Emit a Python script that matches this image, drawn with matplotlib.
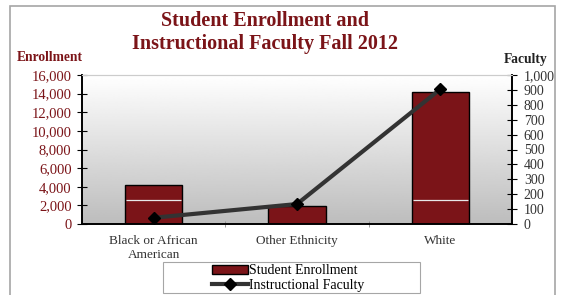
import matplotlib.pyplot as plt
import numpy as np
from matplotlib.patches import Rectangle

plt.rcParams['font.family'] = ['Liberation Serif', 'DejaVu Serif']

categories = ['Black or African\nAmerican', 'Other Ethnicity', 'White']
enrollment = [4150, 1950, 14200]
faculty = [42, 134, 905]

dark_red = '#7b1418'

fig = plt.figure(figsize=(5.64, 2.95), dpi=100)
# outer frame of the chart
fig.patches.append(Rectangle((10 / 564, -0.1), 545 / 564, 1.08, transform=fig.transFigure,
                             fill=False, edgecolor='#a6a6a6', lw=1.2))
# legend frame (wider than its contents, like the original)
fig.patches.append(Rectangle((163 / 564, 1 - 293 / 295), 257 / 564, 31 / 295,
                             transform=fig.transFigure, fill=True, facecolor='white',
                             edgecolor='#a6a6a6', lw=0.8))

ax = fig.add_axes([82 / 564, 1 - 224 / 295, 430 / 564, 149 / 295])
ax2 = ax.twinx()

# gradient background
grad = np.linspace(1, 0.74, 256).reshape(-1, 1)
ax.imshow(grad, cmap='gray', vmin=0, vmax=1, aspect='auto', extent=[0, 1, 0, 1],
          transform=ax.transAxes, zorder=0)

x = np.arange(len(categories))
bw = 0.4
ax.bar(x, enrollment, width=bw, color=dark_red, edgecolor='black', lw=1, zorder=2,
       label='Student Enrollment')
# faint light streak seen across the taller bars
tall = np.array(enrollment) > 2600
ax.hlines([2600] * tall.sum(), x[tall] - bw / 2 + 0.01, x[tall] + bw / 2 - 0.01,
          color='#e8e8e8', lw=0.9, zorder=3)
ax.set_xlim(-0.5, 2.5)
ax.set_ylim(0, 16000)
ax.set_yticks(range(0, 16001, 2000))
ax.set_yticklabels([f'{v:,}' for v in range(0, 16001, 2000)], color=dark_red, fontsize=10.5)
ax.set_xticks(x)
ax.set_xticklabels(categories, fontsize=9.5, color='#333333', linespacing=1.25)
ax.tick_params(axis='x', length=0, pad=8)
ax.set_xticks([0.5, 1.5], minor=True)
ax.tick_params(axis='x', which='minor', length=5, direction='inout', color='#888888')
ax.tick_params(axis='y', length=7, direction='inout', pad=4)

ax2.plot(x, faculty, color='#333333', lw=3, marker='D', markersize=6,
         markerfacecolor='black', markeredgecolor='black', zorder=4, label='Instructional Faculty')
ax2.set_ylim(0, 1000)
ax2.set_yticks(range(0, 1001, 100))
ax2.set_yticklabels([f'{v:,}' for v in range(0, 1001, 100)], color='#333333', fontsize=10)
ax2.tick_params(axis='y', length=7, direction='inout', pad=5)

for a in (ax, ax2):
    a.spines['top'].set_color('#cccccc')
    a.spines['left'].set_linewidth(1.2)
    a.spines['right'].set_linewidth(1.2)
    a.spines['bottom'].set_linewidth(1.2)

fig.text(265 / 564, 1 - 32 / 295, 'Student Enrollment and\nInstructional Faculty Fall 2012',
         ha='center', va='center', fontsize=14.5, fontweight='bold', color=dark_red, linespacing=1.2)
fig.text(17 / 564, 1 - 57 / 295, 'Enrollment', ha='left', va='center', fontsize=9.75,
         fontweight='bold', color=dark_red)
fig.text(547 / 564, 1 - 59 / 295, 'Faculty', ha='right', va='center', fontsize=9.75,
         fontweight='bold', color='#222222')

h1, l1 = ax.get_legend_handles_labels()
h2, l2 = ax2.get_legend_handles_labels()
leg = fig.legend(h1 + h2, l1 + l2, loc='center', bbox_to_anchor=(288 / 564, 1 - 278 / 295),
                 fontsize=10, frameon=False, handlelength=2.6, labelspacing=0.1,
                 borderpad=0.2, handletextpad=0.1)

fig.savefig('out.png', dpi=100)
